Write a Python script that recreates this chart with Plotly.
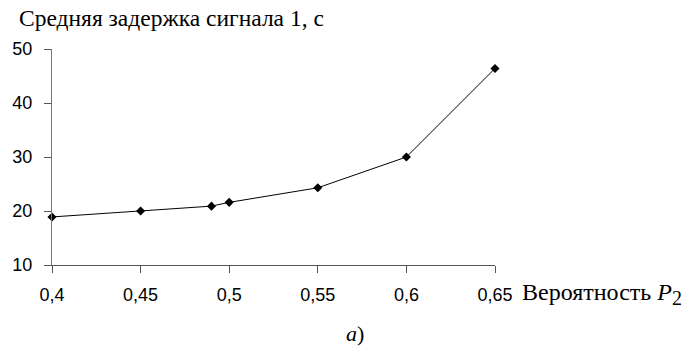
import plotly.graph_objects as go

p2 = [0.40, 0.45, 0.49, 0.50, 0.55, 0.60, 0.65]
delay = [18.9, 20.0, 20.9, 21.6, 24.3, 30.0, 46.4]

x_ticks = [0.40, 0.45, 0.50, 0.55, 0.60, 0.65]
x_tick_labels = ["0,4", "0,45", "0,5", "0,55", "0,6", "0,65"]
y_ticks = [10, 20, 30, 40, 50]
y_tick_labels = ["10", "20", "30", "40", "50"]

fig = go.Figure()
fig.add_trace(go.Scatter(
    x=p2, y=delay, mode="lines+markers",
    line=dict(color="black", width=1),
    marker=dict(symbol="diamond", size=7, color="black"),
    showlegend=False, cliponaxis=False,
))

serif = "'Liberation Serif', 'Times New Roman', serif"
fig.update_layout(
    width=686, height=351, autosize=False,
    margin=dict(l=52, r=191, t=49, b=86),
    paper_bgcolor="white", plot_bgcolor="white",
    font=dict(family="Liberation Sans, Arial", size=18, color="black"),
    xaxis=dict(
        range=[0.40, 0.65], tickvals=x_ticks, ticktext=x_tick_labels,
        showgrid=False, zeroline=False, showline=True, linecolor="#555555", linewidth=1,
        ticks="outside", ticklen=7, tickcolor="#555555", ticklabelstandoff=6,
        tickfont=dict(family="Liberation Sans, Arial", size=18, color="black"),
    ),
    yaxis=dict(
        range=[10, 50], tickvals=y_ticks, ticktext=y_tick_labels,
        showgrid=False, zeroline=False, showline=True, linecolor="#777777", linewidth=1,
        ticks="outside", ticklen=7, tickcolor="#555555", ticklabelstandoff=8,
        tickfont=dict(family="Liberation Sans, Arial", size=18, color="black"),
    ),
    annotations=[
        dict(text="Средняя задержка сигнала 1, с", xref="paper", yref="paper",
             x=(18 - 52) / 443, y=1 + 31 / 216, xanchor="left", yanchor="middle", showarrow=False,
             xshift=-1, font=dict(family=serif, size=23.5, color="black")),
        dict(text="Вероятность <i>P</i><sub><span style='font-size:20px'>2</span></sub>",
             xref="paper", yref="paper",
             x=1 + 28 / 443, y=-29 / 216, xanchor="left", yanchor="middle", showarrow=False,
             xshift=-3, font=dict(family=serif, size=24, color="black")),
        dict(text="<i>а</i>)", xref="paper", yref="paper",
             x=(355 - 52) / 443, y=-(333 - 265) / 216, xanchor="center", yanchor="middle", showarrow=False,
             font=dict(family=serif, size=22, color="black")),
    ],
)

fig.write_html("out.html")
